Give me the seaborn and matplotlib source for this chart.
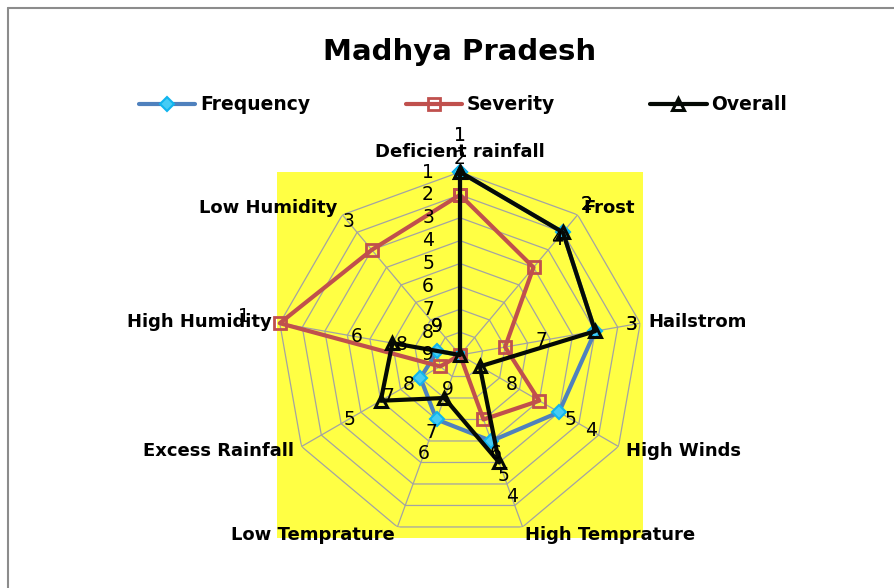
import numpy as np
import pandas as pd
import matplotlib
matplotlib.use("Agg")
import matplotlib.pyplot as plt
from matplotlib import transforms
from matplotlib.lines import Line2D
import seaborn as sns

# ranks (1 = outer ring, 9 = centre)
categories = ["Deficient rainfall", "Frost", "Hailstrom", "High Winds",
              "High Temprature", "Low Temprature", "Excess Rainfall",
              "High Humidity", "Low Humidity"]
frequency = [1, 2, 3, 4, 5, 6, 7, 8, 9]
severity = [2, 4, 7, 5, 6, 9, 8, 1, 3]
overall = [1, 2, 3, 8, 4, 7, 5, 6, 9]
rank_ticks = [1, 2, 3, 4, 5, 6, 7, 8, 9]
chart_title = "Madhya Pradesh"

sns.set_style("white")
plt.rcParams['font.family'] = ['DejaVu Sans']
plt.rcParams['text.color'] = 'black'

W, H = 895, 588
fig = plt.figure(figsize=(W / 100, H / 100), dpi=100)

# plot area (yellow square behind the radar)
ax_rect = [277 / W, 50 / H, 366 / W, 366 / H]
bg = fig.add_axes(ax_rect)
bg.set_facecolor('#FFFF44')
bg.set_xticks([])
bg.set_yticks([])
for s in bg.spines.values():
    s.set_visible(False)
bg.set_zorder(0)

# chart border (left + top visible)
fig.add_artist(Line2D([8 / W, 8 / W], [0, 1 - 8 / H], transform=fig.transFigure,
                      color='#8C8C8C', lw=1.5))
fig.add_artist(Line2D([8 / W, 1], [1 - 8 / H, 1 - 8 / H], transform=fig.transFigure,
                      color='#8C8C8C', lw=1.5))

ax = fig.add_axes(ax_rect, projection='polar')
ax.set_zorder(2)
ax.patch.set_alpha(0)
ax.set_theta_offset(np.pi / 2)
ax.set_theta_direction(-1)
ax.set_ylim(9, 1)
ax.spines['polar'].set_visible(False)
ax.grid(False)
ax.set_xticks([])
ax.set_yticks([])

n = len(categories)
theta = np.arange(n) * 2 * np.pi / n
theta_c = np.append(theta, 2 * np.pi)

# nonagon grid + spokes
grid_c = '#A3A3A3'
for v in rank_ticks[:-1]:
    ax.plot(theta_c, [v] * (n + 1), color=grid_c, lw=0.9, zorder=1)
for t in theta:
    ax.plot([t, t], [9, 1], color=grid_c, lw=0.9, zorder=1)

series = [
    ("Frequency", frequency, dict(color='#4F81BD', marker='D', ms=7,
                                  mfc='#45CCF5', mec='#10B4EE', mew=1.5), 3),
    ("Severity", severity, dict(color='#C0504D', marker='s', ms=9,
                                mfc='none', mec='#C0504D', mew=2), 4),
    ("Overall", overall, dict(color='#050A05', marker='^', ms=9,
                              mfc='none', mec='#050A05', mew=2.2), 5),
]

for name, vals, style, z in series:
    df = pd.DataFrame({'theta': theta_c, 'rank': vals + vals[:1]})
    sns.lineplot(data=df, x='theta', y='rank', ax=ax, sort=False, estimator=None,
                 label=name, lw=3, clip_on=False, zorder=z, **style)

ax.set_xlabel('')
ax.set_ylabel('')
ax.set_ylim(9, 1)

# data labels, pushed outward along each spoke
lab_shift = 1.6
for name, vals, style, z in series:
    for t, v in zip(theta, vals):
        ax.text(t, v - lab_shift, str(v), ha='center', va='center',
                fontsize=13.5, color='black', zorder=6)

# radial axis labels, left of the vertical spoke
off = ax.transData + transforms.ScaledTranslation(-32 / 100, 0, fig.dpi_scale_trans)
for v in rank_ticks:
    ax.text(0, v, str(v), transform=off, ha='center', va='center',
            fontsize=13.5, color='black', zorder=6)

# category labels
r_lab = 9 - 190 / 22.7
for t, cat in zip(theta, categories):
    ang = np.pi / 2 - t
    c = np.cos(ang)
    if c > 0.1:
        ha = 'left'
    elif c < -0.1:
        ha = 'right'
    else:
        ha = 'center'
    if abs(c) < 0.1:
        ax.text(t, r_lab - 0.1, cat, ha=ha, va='bottom', fontsize=13,
                fontweight='bold', zorder=7)
    else:
        ax.text(t, r_lab, cat, ha=ha, va='center', fontsize=13,
                fontweight='bold', zorder=7)

leg = ax.get_legend()
if leg is not None:
    leg.remove()
handles, labels = ax.get_legend_handles_labels()
fig.legend(handles, labels, loc='center', bbox_to_anchor=(463 / W, 1 - 105 / H),
           ncol=3, frameon=False, handlelength=3.0, columnspacing=5.1,
           handletextpad=0.25, prop=dict(weight='bold', size=13.5))

fig.text(460 / W, 1 - 52 / H, chart_title, ha='center', va='center',
         fontsize=21, fontweight='bold')

fig.savefig('out.png', dpi=100)
